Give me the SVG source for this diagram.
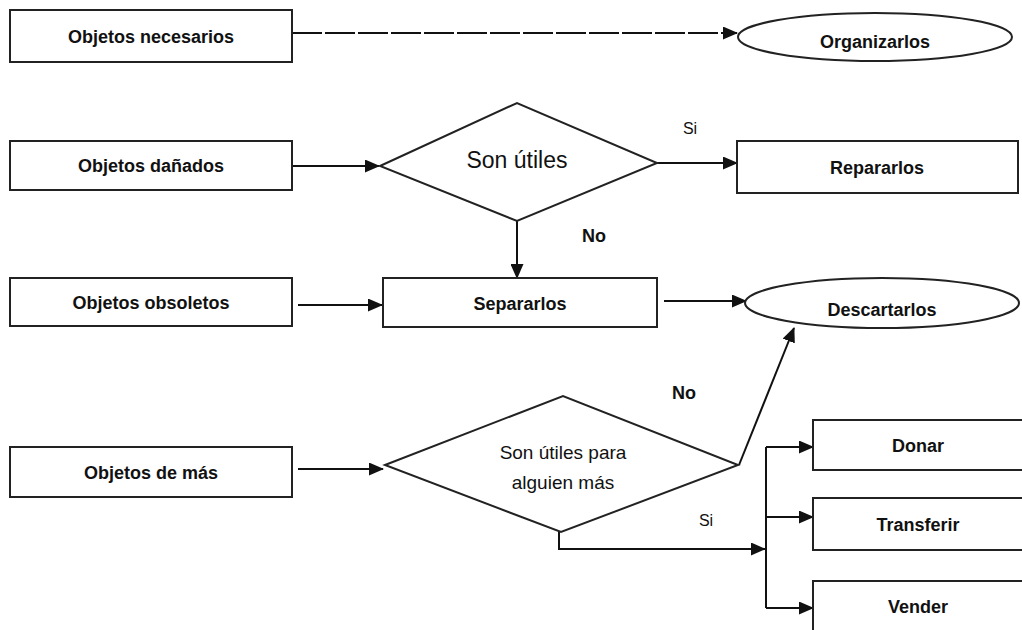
<svg xmlns="http://www.w3.org/2000/svg" width="1022" height="630" viewBox="0 0 1022 630">
<style>
.box{fill:#fff;stroke:#222;stroke-width:2}
.ln{fill:none;stroke:#111;stroke-width:2}
.t{font-family:"Liberation Sans",Arial,sans-serif;font-weight:bold;font-size:18px;fill:#111;text-anchor:middle}
.r{font-family:"Liberation Sans",Arial,sans-serif;font-weight:normal;font-size:21px;fill:#111;text-anchor:middle}
.s{font-family:"Liberation Sans",Arial,sans-serif;font-weight:normal;font-size:16px;fill:#111;text-anchor:middle}
</style>
<defs>
<marker id="ah" markerWidth="15" markerHeight="13" refX="14" refY="6.5" orient="auto" markerUnits="userSpaceOnUse">
<path d="M0,0 L15,6.5 L0,13 Z" fill="#111"/>
</marker>
</defs>
<rect width="1022" height="630" fill="#fff"/>
<g id="connectors">
<path class="ln" d="M292,33 L737,33" stroke-dasharray="30,3" marker-end="url(#ah)"/>
<path class="ln" d="M292,166 L379,166" marker-end="url(#ah)"/>
<path class="ln" d="M657,163 L737,163" marker-end="url(#ah)"/>
<path class="ln" d="M517,221 L517,278" marker-end="url(#ah)"/>
<path class="ln" d="M298,305 L382,305" marker-end="url(#ah)"/>
<path class="ln" d="M664,301 L746,301" marker-end="url(#ah)"/>
<path class="ln" d="M298,469 L383,469" marker-end="url(#ah)"/>
<path class="ln" d="M739,465 L794,328" marker-end="url(#ah)"/>
<path class="ln" d="M559,532 L559,549 L765,549" marker-end="url(#ah)"/>
<path class="ln" d="M766,608 L766,447"/>
<path class="ln" d="M766,447 L813,447" marker-end="url(#ah)"/>
<path class="ln" d="M766,517 L813,517" marker-end="url(#ah)"/>
<path class="ln" d="M766,608 L813,608" marker-end="url(#ah)"/>
<text class="s" x="690" y="134">Si</text>
<text class="t" x="594" y="242">No</text>
<text class="t" x="684" y="399">No</text>
<text class="s" x="706" y="526">Si</text>
</g>
<g id="n-necesarios"><rect class="box" x="10" y="10" width="282" height="52"/><text class="t" x="151" y="43">Objetos necesarios</text></g>
<g id="n-organizarlos"><ellipse class="box" cx="875" cy="37" rx="137" ry="24"/><text class="t" x="875" y="48">Organizarlos</text></g>
<g id="n-danados"><rect class="box" x="10" y="141" width="282" height="49"/><text class="t" x="151" y="172">Objetos dañados</text></g>
<g id="n-utiles"><path class="box" d="M380,166 L517,103 L657,163 L517,221 Z"/><text class="r" x="517" y="168" style="font-size:23px">Son útiles</text></g>
<g id="n-repararlos"><rect class="box" x="737" y="141" width="281" height="52"/><text class="t" x="877" y="174">Repararlos</text></g>
<g id="n-obsoletos"><rect class="box" x="10" y="278" width="282" height="48"/><text class="t" x="151" y="309">Objetos obsoletos</text></g>
<g id="n-separarlos"><rect class="box" x="383" y="278" width="274" height="49"/><text class="t" x="520" y="310">Separarlos</text></g>
<g id="n-descartarlos"><ellipse class="box" cx="882" cy="303" rx="137" ry="25"/><text class="t" x="882" y="316">Descartarlos</text></g>
<g id="n-demas"><rect class="box" x="10" y="447" width="282" height="50"/><text class="t" x="151" y="479">Objetos de más</text></g>
<g id="n-alguien"><path class="box" d="M385,465 L563,396 L738,465 L561,532 Z"/><text class="r" x="563" y="459" style="font-size:19px">Son útiles para</text><text class="r" x="563" y="489" style="font-size:19px">alguien más</text></g>
<g id="n-donar"><rect class="box" x="813" y="420" width="210" height="50"/><text class="t" x="918" y="452">Donar</text></g>
<g id="n-transferir"><rect class="box" x="813" y="498" width="210" height="52"/><text class="t" x="918" y="531">Transferir</text></g>
<g id="n-vender"><rect class="box" x="813" y="581" width="210" height="52"/><text class="t" x="918" y="613">Vender</text></g>
</svg>
